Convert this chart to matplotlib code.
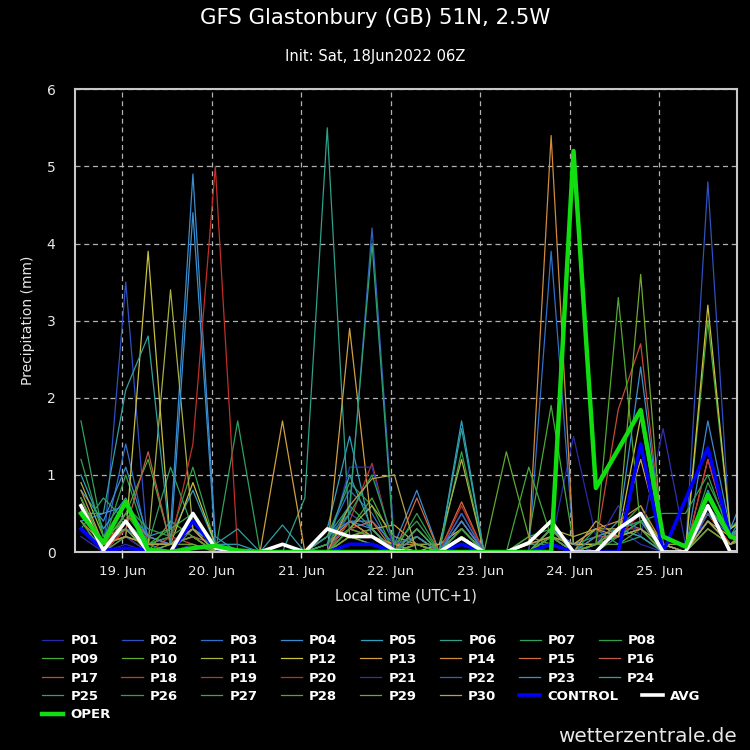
import numpy as np
import matplotlib
matplotlib.use("Agg")
import matplotlib.pyplot as plt

plt.rcParams['font.family'] = ['DejaVu Sans']

title = "GFS Glastonbury (GB) 51N, 2.5W"
subtitle = "Init: Sat, 18Jun2022 06Z"
day_labels = ["19. Jun", "20. Jun", "21. Jun", "22. Jun", "23. Jun", "24. Jun", "25. Jun"]

# forecast steps: 6-hourly, first step 18 Jun 13:00 local (hours relative to 19 Jun 00:00 local)
first_hour = -11
step_hours = 6
n_steps = 31

P01 = [0.3,0.0,0.1,0.0,0.0,0.0,0.0,0,0,0,0,0.1,0.3,0.2,0.0,0.2,0,0.2,0,0,0,0.1,1.5,0.2,0.3,0.1,0.0,0,0.3,0.1,0.3]
P02 = [0.4,0.0,3.5,0.0,0.1,0.2,0.0,0,0,0,0,0,0.5,0.3,0,0.1,0,0.3,0,0,0,0.2,0,0.1,0.2,0.3,0.1,0,4.8,0.2,0.5]
P03 = [0.5,0.1,1.4,0.1,0,0.3,0.1,0,0,0,0,0.2,0.8,0.5,0,0.3,0,0.5,0,0,0,3.9,0.1,0,0.3,0.2,0,0,0.5,0.1,0.4]
P04 = [0.8,0.4,1.1,0.2,0.3,4.9,0.2,0,0,0,0,0,0.4,0.4,0.1,0.8,0,0.4,0,0,0,0.3,0.1,0.2,0.2,0.4,0.1,0,1.7,0.3,0.6]
P05 = [1.0,0.3,0.7,0.1,0.2,0.8,0.1,0.1,0,0.1,0,0.3,1.5,0.2,0,0.2,0,1.7,0,0,0,0.3,0,0.1,0.4,0.3,0,0,0.8,0.2,0.7]
P06 = [0.5,0.1,0.3,0.0,0.1,0.2,0,0,0,0,0.7,5.5,0.2,0.3,0,0.1,0,0.4,0,0,0.1,0.1,0,0,0.2,0.3,0,0,0.4,0.1,0.3]
P07 = [1.7,0.2,0.4,0.1,1.1,0.3,0,1.7,0,0,0,0.1,0.6,0.3,0,0.3,0,0.3,0,0,0,0.2,0,0.3,0.1,0.2,0,0,0.6,0.2,0.5]
P08 = [0.7,0.1,1.0,0.1,0.2,1.1,0.1,0,0,0.1,0,0.2,0.9,0.6,0,0.5,0,1.3,0,0,0.2,0.3,0,0,0.3,0.6,0,0,0.9,0.3,0.6]
P09 = [0.6,0.0,0.5,1.2,0.1,0.3,0.1,0,0,0,0,0.1,0.3,0.7,0.1,0.2,0,0.3,0,0,0.2,1.9,0.1,0.1,0.3,0.5,0.1,0,3.0,0.3,0.5]
P10 = [0.4,0.1,0.3,0.0,0.4,0.2,0,0,0,0,0,0,0.2,0.1,0,0.1,0,0.2,0,1.3,0.2,0.1,0,0.1,0.1,0.3,0,0,0.5,0.1,0.3]
P11 = [0.9,0.2,0.3,0.1,3.4,0.3,0.1,0,0,0,0,0,0.3,0.6,0.2,0.1,0.1,1.2,0,0,0,0.3,0.2,0.3,0.3,0.5,0.1,0.1,0.6,0.2,0.4]
P12 = [0.6,0.1,0.2,3.9,0.1,0.9,0.1,0,0,0,0,0,0.4,0.2,0.1,0,0.1,0.3,0,0,0,0.2,0.1,0.1,0.2,1.75,0.1,0,3.2,0.3,0.5]
P13 = [0.5,0.1,0.2,0.1,0.1,0.2,0,0,0,1.7,0,0,2.9,0.3,0.35,0.1,0,0.3,0,0,0.1,0.2,0,0.4,0.2,1.2,0.1,0,0.4,0.2,0.3]
P14 = [0.7,0.0,0.3,0.1,0.1,0.3,0,0,0,0,0,0.1,0.4,0.2,0.1,0.1,0,0.2,0,0,0.1,5.4,0.1,0.3,0.4,0.6,0.1,0,0.5,0.1,0.3]
P15 = [0.4,0.1,0.5,0.2,0.1,0.3,0.1,0,0,0,0,0,0.3,0.4,0,0.7,0,0.65,0,0,0,0.2,0,0.1,0.3,0.5,0,0,1.2,0.2,0.4]
P16 = [0.3,0.0,0.3,1.3,0.1,0.2,0.1,0,0,0,0,0,0.2,0.3,0,0.2,0,0.3,0,0,0,0.1,0,0.2,0.2,0.3,0,0,0.4,0.1,0.3]
P17 = [0.6,0.1,0.2,0.0,0.2,0.1,0,0,0,0,0,0,0.2,0.3,0,0.1,0,0.2,0,0,0,0.3,0,0.1,1.85,2.7,0.1,0,0.6,0.2,0.3]
P18 = [0.5,0.1,0.4,0.1,0.1,0.4,0.1,0,0,0,0,0,0.3,0.2,0,0.3,0,0.4,0,0,0,0.2,0,0.1,0.2,0.4,0,0,1.2,0.2,0.4]
P19 = [0.3,0.0,0.2,0.1,0.1,0.2,0,0,0,0,0,0,0.4,1.15,0,0.1,0,0.2,0,0,0,0.1,0,0.2,0.3,0.3,0,0,0.3,0.1,0.2]
P20 = [0.6,0.0,0.3,0.2,0.1,1.4,5.0,0,0,0,0,0,0.3,0.2,0,0.2,0,0.6,0,0,0,0.2,0,0.1,0.2,0.5,0,0,0.5,0.1,0.3]
P21 = [0.2,0.0,0.2,0.0,0.0,0.1,0,0,0,0,0,0,1.1,1.1,0,0.1,0,0.2,0,0,0,0.2,0,0.1,0.6,0.2,1.6,0.1,0.4,0.1,0.3]
P22 = [0.3,0.1,0.3,0.1,0.1,0.3,0,0,0,0,0,0.2,0.5,4.2,0.1,0.2,0,0.5,0,0,0,0.2,0.1,0,0.3,0.4,0.1,0,0.5,0.2,0.4]
P23 = [0.4,0.5,0.6,0.2,0.1,4.4,0.1,0,0,0.1,0,0.2,0.4,0.3,0,0.3,0,0.4,0,0,0,0.3,0,0.1,0.3,2.4,0.1,0,0.7,0.3,1.0]
P24 = [0.5,0.5,2.1,2.8,0.1,0.3,0.1,0.3,0,0.35,0,0.1,1.0,0.3,0,0.2,0,1.6,0,0,0,0.1,0,0.2,0.3,0.2,0,0,0.6,0.2,0.5]
P25 = [0.3,0.7,0.4,0.1,0.1,0.3,0,0,0,0,0,0.2,0.6,4.0,0,0.1,0,0.3,0,0,0,0.2,0,0.1,0.2,0.4,0,0,0.4,0.1,0.3]
P26 = [1.2,0.2,0.6,0.3,0.2,0.4,0,0,0,0,0,0.1,0.5,1.0,0.1,0.4,0,0.2,0,0,0,0.3,0,0.1,0.3,0.4,0.5,0.5,1.0,0.2,0.4]
P27 = [0.7,0.1,0.5,0.1,0.3,0.5,0.1,0,0,0,0,0,0.3,0.2,0,0.3,0,0.3,0,0,1.1,0.2,0,0.1,0.2,0.3,0,0,0.4,0.1,0.3]
P28 = [0.4,0.0,0.2,0.1,0.1,0.2,0,0,0,0.1,0,0,0.2,0.3,0,0.1,0,0.2,0,0,0,0.2,0,0.1,3.3,0.3,0,0,0.3,0.1,0.2]
P29 = [0.5,0.1,0.3,0.0,0.1,0.1,0,0,0,0,0,0,0.2,0.1,0,0.1,0,0.2,0,0,0,0.3,0,0.1,0.3,3.6,0,0,0.3,0.1,0.2]
P30 = [0.8,0.1,0.2,0.1,0.1,0.3,0,0,0,0,0,0,0.6,0.95,1.0,0,0,0.1,0,0,0.1,0.2,0.1,0.3,0.2,0.3,0.1,0,0.4,0.1,0.3]

CONTROL = [0.3,0.02,0.05,0.02,0.0,0.4,0.05,0,0,0,0,0,0.1,0.1,0,0,0,0.1,0,0,0,0.1,0,0,0.0,1.4,0.0,0.68,1.35,0.2,0.1]
AVG = [0.6,0.02,0.4,0.0,0.0,0.5,0.05,0,0,0.1,0,0.3,0.2,0.2,0.02,0,0,0.18,0,0,0.12,0.4,0.0,0.0,0.3,0.5,0.0,0.0,0.6,0.0,0.0]
OPER = [0.5,0.12,0.65,0.03,0.0,0.05,0.08,0.02,0,0,0,0,0,0,0,0,0,0,0,0,0,0,5.2,0.83,1.33,1.84,0.2,0.07,0.74,0.2,0.1]

members = [P01,P02,P03,P04,P05,P06,P07,P08,P09,P10,P11,P12,P13,P14,P15,
           P16,P17,P18,P19,P20,P21,P22,P23,P24,P25,P26,P27,P28,P29,P30]
member_names = ["P%02d" % (k + 1) for k in range(30)]
member_colors = ['#2a2aa8', '#2f50c0', '#3070c8', '#3a8cd0', '#30a0c0', '#2fa08a',
                 '#30a060', '#30a048', '#48a838', '#60a830', '#a8b040', '#c8c040',
                 '#d0a040', '#d08a40', '#d06a40', '#c05a48', '#c84838', '#c83a30',
                 '#b03838', '#c03028', '#3030b0', '#3060c0', '#3a90d0', '#30a0a0',
                 '#30a070', '#30a050', '#40a840', '#50a830', '#70a830', '#b8a050']

x = (first_hour + step_hours * np.arange(n_steps)) / 24.0

fig = plt.figure(figsize=(7.5, 7.5), dpi=100, facecolor='black')
ax = fig.add_axes([0.1, 0.264, 0.883, 0.617], facecolor='black')

handles = []
for vals, name, col in zip(members, member_names, member_colors):
    h, = ax.plot(x, vals, color=col, lw=0.9, label=name)
    handles.append(h)
h, = ax.plot(x, CONTROL, color='#0000ff', lw=2.6, label='CONTROL')
handles.append(h)
h, = ax.plot(x, AVG, color='white', lw=2.6, label='AVG')
handles.append(h)
h, = ax.plot(x, OPER, color='#11dd11', lw=3.2, label='OPER')
handles.append(h)

ax.set_xlim(-0.525, 6.87)
ax.set_ylim(0, 6)
ax.set_xticks(np.arange(7))
ax.set_xticklabels(day_labels)
ax.set_yticks(np.arange(7))
ax.grid(True, color='#b0b0b0', ls=(0, (4, 3)), lw=0.9)
for s in ax.spines.values():
    s.set_color('#c8c8c8')
    s.set_linewidth(1.5)
ax.tick_params(axis='x', colors='#e8e8e8', labelsize=9.7, length=4, width=1, pad=5)
ax.tick_params(axis='y', colors='#e8e8e8', labelsize=10, length=0, pad=14)
ax.set_xlabel("Local time (UTC+1)", color='#e8e8e8', fontsize=10.5, va='center')
ax.xaxis.set_label_coords(0.5, -0.095)
ax.set_ylabel("Precipitation (mm)", color='#e8e8e8', fontsize=10, va='center')
ax.yaxis.set_label_coords(-0.071, 0.5)

fig.text(0.5, 1 - 18 / 750, title, ha='center', va='center', fontsize=15.3, color='white')
fig.text(0.5, 1 - 57 / 750, subtitle, ha='center', va='center', fontsize=10.6, color='white')

# legend laid out as rows of 8 entries (flowing like the original)
row_y = [641, 659.5, 678, 696.5, 715]
per_row = 8
for r, yy in enumerate(row_y):
    hs = handles[r * per_row:(r + 1) * per_row]
    if not hs:
        continue
    leg = fig.legend(hs, [h.get_label() for h in hs], ncol=len(hs), loc='center left',
                     bbox_to_anchor=(42 / 750, 1 - yy / 750), frameon=False,
                     handlelength=1.6, handletextpad=0.55, columnspacing=1.75,
                     borderpad=0, borderaxespad=0,
                     prop={'weight': 'bold', 'size': 9.5})
    for t in leg.get_texts():
        t.set_color('white')

fig.text(737 / 750, 1 - 736 / 750, "wetterzentrale.de", ha='right', va='center',
         fontsize=14.4, color='#e8e8e8')

fig.savefig("out.png", dpi=100, facecolor='black')
